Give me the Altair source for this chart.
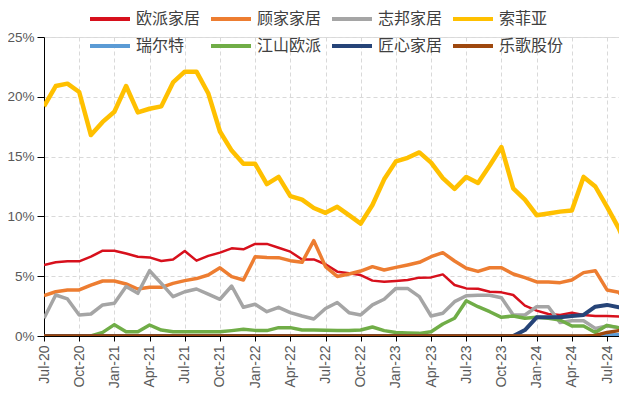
import altair as alt
import pandas as pd

tick_labels = ["Jul-20", "Oct-20", "Jan-21", "Apr-21", "Jul-21", "Oct-21", "Jan-22", "Apr-22",
               "Jul-22", "Oct-22", "Jan-23", "Apr-23", "Jul-23", "Oct-23", "Jan-24", "Apr-24", "Jul-24"]

series_names = ["欧派家居", "顾家家居", "志邦家居", "索菲亚", "瑞尔特", "江山欧派", "匠心家居", "乐歌股份"]
series_colors = ["#D7101C", "#ED7D31", "#A5A5A5", "#FFC000", "#5B9BD5", "#70AD47", "#264478", "#9E480E"]
series_widths = [2.5, 3.5, 3.5, 4.5, 3.5, 3.5, 4.0, 3.5]

oupai = [5.94, 6.16, 6.24, 6.24, 6.63, 7.13, 7.13, 6.9, 6.63, 6.57, 6.27, 6.4, 7.1, 6.3, 6.7, 6.97,
         7.33, 7.25, 7.7, 7.7, 7.38, 7.05, 6.4, 6.4, 6.0, 5.38, 5.24, 5.1, 4.63, 4.54, 4.6, 4.68,
         4.88, 4.9, 5.15, 4.26, 3.98, 3.95, 3.7, 3.65, 3.43, 2.54, 2.12, 1.84, 1.76, 1.95, 1.76,
         1.67, 1.67, 1.64, 1.65]
gujia = [3.37, 3.7, 3.85, 3.85, 4.26, 4.6, 4.6, 4.35, 3.93, 4.07, 4.07, 4.4, 4.63, 4.8, 5.1, 5.7,
         4.96, 4.68, 6.63, 6.57, 6.55, 6.3, 6.16, 7.97, 5.8, 4.98, 5.18, 5.43, 5.8, 5.52, 5.74, 5.94,
         6.16, 6.63, 6.97, 6.27, 5.66, 5.4, 5.71, 5.71, 5.18, 4.88, 4.52, 4.52, 4.46, 4.68, 5.3,
         5.46, 3.85, 3.65, 2.5]
zhibang = [1.48, 3.43, 3.1, 1.76, 1.84, 2.6, 2.73, 4.13, 3.57, 5.46, 4.4, 3.29, 3.7, 3.93, 3.51, 3.07,
           4.18, 2.4, 2.65, 2.03, 2.4, 1.95, 1.67, 1.42, 2.3, 2.8, 1.95, 1.76, 2.6, 3.07, 3.98, 3.98,
           3.29, 1.67, 1.9, 2.87, 3.37, 3.4, 3.4, 3.2, 1.76, 1.76, 2.45, 2.45, 1.12, 1.28, 1.28,
           0.64, 0.84, 0.7, 0.6]
sofia = [19.2, 20.9, 21.1, 20.4, 16.8, 17.9, 18.75, 20.9, 18.7, 19.0, 19.2, 21.2, 22.1, 22.1, 20.3, 17.1,
         15.5, 14.4, 14.4, 12.7, 13.3, 11.7, 11.4, 10.7, 10.3, 10.8, 10.1, 9.4, 10.95, 13.1, 14.6, 14.9,
         15.35, 14.5, 13.2, 12.3, 13.3, 12.8, 14.25, 15.8, 12.35, 11.4, 10.1, 10.25, 10.4, 10.5, 13.3,
         12.5, 10.8, 9.0, 6.8]
ruierte = [0.0] * 47 + [0.0, 0.08, 0.1, 0.1]
jiangshan = [0.0, 0.0, 0.0, 0.0, 0.0, 0.3, 0.95, 0.36, 0.36, 0.92, 0.5, 0.36, 0.36, 0.36, 0.35, 0.35,
             0.45, 0.56, 0.47, 0.45, 0.7, 0.7, 0.5, 0.5, 0.48, 0.45, 0.45, 0.5, 0.75, 0.45, 0.3, 0.25,
             0.22, 0.36, 1.0, 1.48, 2.95, 2.45, 2.03, 1.56, 1.67, 1.48, 1.56, 1.48, 1.34, 0.84, 0.84,
             0.3, 0.89, 0.7, 0.7]
jiangxin = [0.0] * 40 + [0.0, 0.5, 1.56, 1.56, 1.56, 1.67, 1.76, 2.45, 2.6, 2.4, 2.5]
lege = [0.0] * 47 + [0.05, 0.3, 0.45, 0.45]

all_values = [oupai, gujia, zhibang, sofia, ruierte, jiangshan, jiangxin, lege]

rows = []
for name, vals in zip(series_names, all_values):
    for i, v in enumerate(vals):
        rows.append({"idx": i, "series": name, "value": v})
df = pd.DataFrame(rows)

label_expr = "[" + ",".join("'" + t + "'" for t in tick_labels) + "][round(datum.value/3)]"

axis_font = "Liberation Sans Narrow, Liberation Sans, sans-serif"

x_enc = alt.X("idx:Q",
              scale=alt.Scale(domain=[0, 49.02], nice=False, zero=False),
              axis=alt.Axis(values=list(range(0, 49, 3)), labelExpr=label_expr, labelAngle=-90,
                            labelFont=axis_font, labelFontSize=14, labelColor="#595959",
                            labelPadding=4, tickColor="#000000", tickSize=5, domainColor="#000000",
                            grid=True, gridColor="#D9D9D9", gridDash=[4, 3], title=None))
y_enc = alt.Y("value:Q",
              scale=alt.Scale(domain=[0, 25], nice=False),
              axis=alt.Axis(values=[0, 5, 10, 15, 20, 25], labelExpr="datum.value + '%'",
                            labelFont=axis_font, labelFontSize=13.5, labelColor="#595959",
                            labelPadding=3, tickColor="#000000", tickSize=7, domainColor="#000000",
                            grid=True, gridColor="#D9D9D9", gridDash=[4, 3], title=None))


def legend_row(y):
    return alt.Legend(orient="none", legendX=44, legendY=y, direction="horizontal",
                      columns=4, symbolType="stroke", symbolSize=1600,
                      symbolStrokeWidth=4, labelFontSize=16,
                      labelFont="Noto Sans CJK SC", labelColor="#404040",
                      columnPadding=2, labelOffset=4, padding=0,
                      gridAlign="all", title=None)


# first legend row: colour channel; second legend row: stroke channel
row1_enc = alt.Color("series:N",
                     scale=alt.Scale(domain=series_names[:4], range=series_colors[:4]),
                     legend=legend_row(-40))
row2_enc = alt.Stroke("series:N",
                      scale=alt.Scale(domain=series_names[4:], range=series_colors[4:]),
                      legend=legend_row(-13))

base = alt.Chart(df)
layers = []
for k, (name, w) in enumerate(zip(series_names, series_widths)):
    enc = {"color": row1_enc} if k < 4 else {"stroke": row2_enc}
    layers.append(
        base.transform_filter(alt.datum.series == name)
        .mark_line(strokeWidth=w, clip=True, strokeJoin="round")
        .encode(x=x_enc, y=y_enc, **enc)
    )

chart = alt.layer(*layers).properties(
    width=575, height=299,
    autosize=alt.AutoSizeParams(type="none"),
    padding={"left": 36, "top": 29, "right": 0, "bottom": 59},
).configure_view(stroke=None).configure(background="white")

chart.save("out.html", embed_options={"renderer": "svg", "actions": False})
